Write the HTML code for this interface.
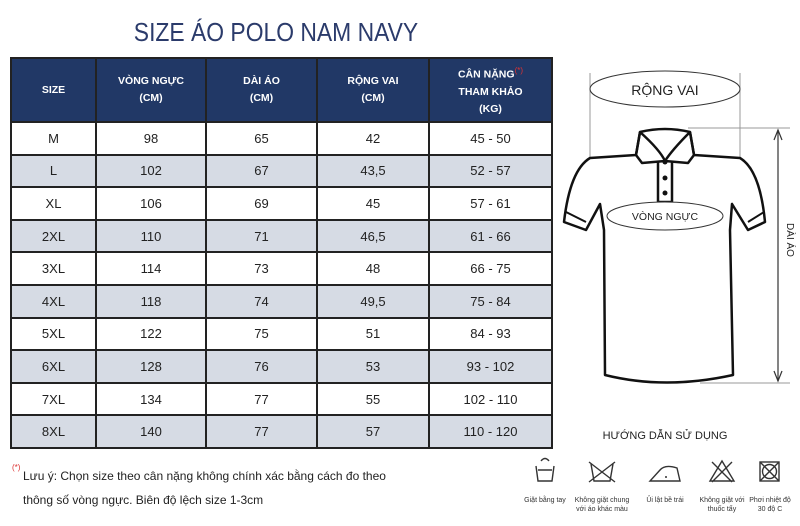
<!DOCTYPE html>
<html><head><meta charset="utf-8">
<style>
body{margin:0;width:800px;height:526px;background:#fff;position:relative;overflow:hidden;font-family:"Liberation Sans",sans-serif}
.t{position:absolute}
table{position:absolute;left:10px;top:57px;border-collapse:collapse;width:541px;table-layout:fixed}
td,th{border:2px solid #222;text-align:center;font-size:13px;color:#222;padding:0}
th{background:#213866;color:#fff;font-size:10.5px;font-weight:bold;height:62px;line-height:17px}
td{height:30.6px}
tr.g td{background:#d6dbe4}
.ic{position:absolute;font-size:7px;color:#333;text-align:center;width:70px;line-height:9px}
</style></head><body>
<div class="t" style="left:0;width:552px;top:17px;text-align:center;font-size:26px;color:#2b3b6b;transform:scaleX(0.88);transform-origin:276px 0">SIZE ÁO POLO NAM NAVY</div>
<table>
<colgroup><col style="width:85px"><col style="width:110px"><col style="width:111px"><col style="width:112px"><col style="width:123px"></colgroup>
<tr><th>SIZE</th><th>VÒNG NGỰC<br>(CM)</th><th>DÀI ÁO<br>(CM)</th><th>RỘNG VAI<br>(CM)</th><th>CÂN NẶNG<sup style="color:#d33;font-weight:normal;font-size:8px">(*)</sup><br>THAM KHẢO<br>(KG)</th></tr>
<tbody id="tb"></tbody>
</table>
<svg class="t" style="left:0;top:0" width="800" height="526">
<g stroke="#999" stroke-width="1" fill="none">
<line x1="590" y1="73" x2="590" y2="158"/><line x1="740" y1="73" x2="740" y2="158"/>
<line x1="688" y1="128" x2="790" y2="128"/><line x1="700" y1="383" x2="790" y2="383"/>
<ellipse cx="665" cy="89" rx="75" ry="18" stroke="#333"/>
</g>
<g stroke="#333" stroke-width="1.2" fill="none">
<line x1="778" y1="130" x2="778" y2="381"/>
<polyline points="774,140 778,130 782,140"/><polyline points="774,371 778,381 782,371"/>
</g>
<g stroke="#111" stroke-width="2.5" fill="none" stroke-linejoin="round">
<path d="M640,132 Q665,126 690,132 L694,155 L740,158 Q760,170 765,222 L748,230 L732,204 L730,230 L733,375 Q665,390 605,375 L604,230 L600,204 L586,230 L564,222 Q570,170 590,158 L636,155 Z"/>
<path d="M636,155 L640,132 M690,132 L694,155 M640,132 Q660,150 665,161 Q672,150 690,132 M636,155 L642,163 L665,161 L688,163 L694,155"/>
<path d="M658,161 L658,202 L672,202 L672,161"/>
<path d="M566,212 L586,222 M764,212 L748,222" stroke-width="2"/>
</g>
<g fill="#111"><circle cx="665" cy="162" r="2.5"/><circle cx="665" cy="178" r="2.5"/><circle cx="665" cy="193" r="2.5"/></g>
<ellipse cx="665" cy="216" rx="58" ry="14" fill="#fff" stroke="#333" stroke-width="1"/>
<text x="665" y="95" text-anchor="middle" font-size="14" fill="#222" font-family="Liberation Sans">RỘNG VAI</text>
<text x="665" y="220" text-anchor="middle" font-size="10.5" fill="#222" font-family="Liberation Sans">VÒNG NGỰC</text>
<text transform="translate(787,240) rotate(90)" text-anchor="middle" font-size="10" fill="#222" font-family="Liberation Sans">DÀI ÁO</text>
<g stroke="#333" stroke-width="1.4" fill="none">
<path d="M536,466 L538,481 L552,481 L554,466 M538,470 L552,470"/><path d="M541,461 Q545,456 549,461"/>
<path d="M591,464 L594,481 L610,481 L613,464 M589,462 L615,482 M615,462 L589,482"/>
<path d="M650,481 L680,481 L677,468 Q665,464 660,470 Z"/>
<path d="M710,481 L722,461 L734,481 Z M712,462 L732,482 M732,462 L712,482"/>
<rect x="760" y="462" width="19" height="19"/><circle cx="769.5" cy="471.5" r="7"/><path d="M760,462 L779,481 M779,462 L760,481"/>
</g>
<circle cx="666" cy="477" r="1" fill="#333"/>
</svg>
<div class="t" style="left:600px;width:130px;top:430px;text-align:center;font-size:11px;color:#222">HƯỚNG DẪN SỬ DỤNG</div>
<div class="ic" style="left:510px;top:496px">Giặt bằng tay</div>
<div class="ic" style="left:567px;top:496px">Không giặt chung<br>với áo khác màu</div>
<div class="ic" style="left:630px;top:496px">Ủi lật bề trái</div>
<div class="ic" style="left:687px;top:496px">Không giặt với<br>thuốc tẩy</div>
<div class="ic" style="left:735px;top:496px">Phơi nhiệt độ<br>30 độ C</div>
<div class="t" style="left:12px;top:464px;font-size:12px;color:#222;line-height:24px"><sup style="color:#d33;font-size:8px;position:absolute;left:0;top:-8px">(*)</sup><div style="padding-left:11px">Lưu ý: Chọn size theo cân nặng không chính xác bằng cách đo theo</div><div style="padding-left:11px">thông số vòng ngực. Biên độ lệch size 1-3cm</div></div>
<script>
const sizes=["M","L","XL","2XL","3XL","4XL","5XL","6XL","7XL","8XL"];
const chest=["98","102","106","110","114","118","122","128","134","140"];
const length=["65","67","69","71","73","74","75","76","77","77"];
const shoulder=["42","43,5","45","46,5","48","49,5","51","53","55","57"];
const weight=["45 - 50","52 - 57","57 - 61","61 - 66","66 - 75","75 - 84","84 - 93","93 - 102","102 - 110","110 - 120"];
const tb=document.getElementById('tb');
sizes.forEach((s,i)=>{
  const tr=document.createElement('tr');
  
  
  if(i%2)tr.className='g';
  [s,chest[i],length[i],shoulder[i],weight[i]].forEach(v=>{
    const td=document.createElement('td');
    
    
    td.textContent=v;tr.appendChild(td);
  });
  tb.appendChild(tr);
});
</script>
</body></html>
